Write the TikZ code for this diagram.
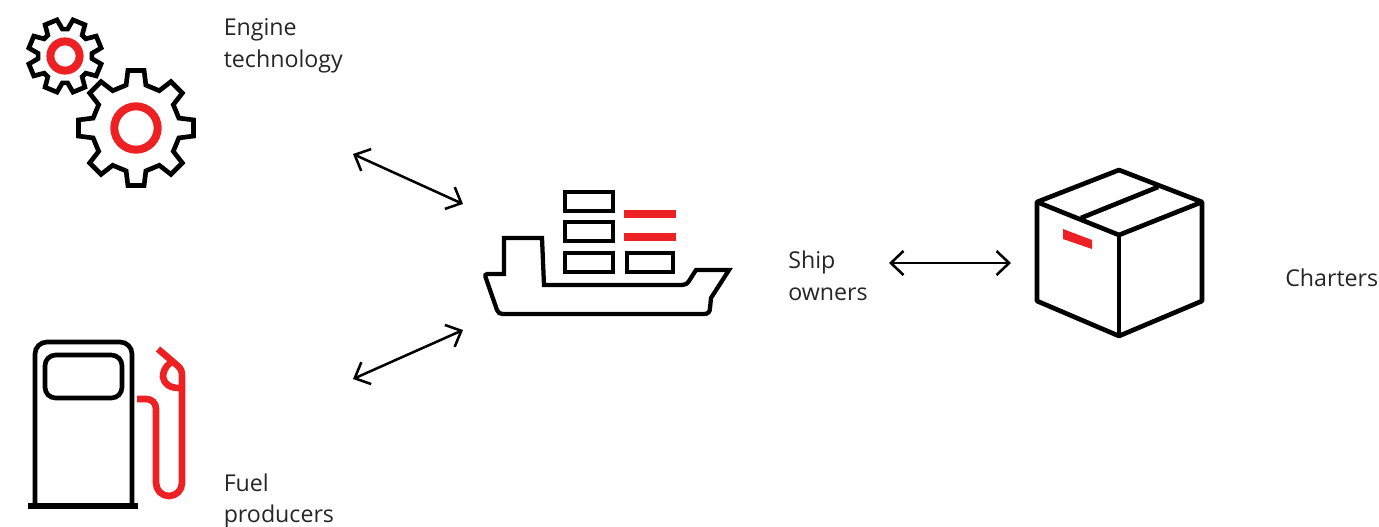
\documentclass[tikz,border=0pt]{standalone}
\usepackage{fontspec}
\setmainfont{Open Sans}
\usetikzlibrary{arrows.meta, calc, positioning}
\definecolor{iconred}{RGB}{237,32,36}
\tikzset{
    icon/.style={line width=3.5pt, line join=miter, black},
    redicon/.style={line width=5pt, iconred},
    link/.style={line width=1.9pt, {Straight Barb[length=9.5pt, width=18pt]}-{Straight Barb[length=9.5pt, width=18pt]}},
    caption/.style={font=\fontsize{17.4}{23.6}\selectfont, text=black!85, inner sep=0pt, align=left},
}
\begin{document}
\begin{tikzpicture}[x=0.75pt, y=-0.75pt]
    \useasboundingbox (0,0) rectangle (1379,526);
    % gears
    \draw[icon] ($(65,56)+(5.5:27)$)
    \foreach \a in {22.5,67.5,...,337.5}{
        -- ($(65,56)+(\a-17:27)$) -- ($(65,56)+(\a-10:37)$) -- ($(65,56)+(\a+10:37)$) -- ($(65,56)+(\a+17:27)$)
    } -- cycle;
    \draw[icon] ($(136,128)+(-13:44)$)
    \foreach \a in {0,45,...,315}{
        -- ($(136,128)+(\a-13:44)$) -- ($(136,128)+(\a-8:58)$) -- ($(136,128)+(\a+8:58)$) -- ($(136,128)+(\a+13:44)$)
    } -- cycle;
    \draw[redicon, line width=6pt] (65,56) circle (14.6);
    \draw[redicon, line width=6pt] (136,128) circle (21.7);
    % pump
    \draw[icon] (35,506) -- (35,354) arc[start angle=180, end angle=270, radius=12] -- (120,342)
        arc[start angle=270, end angle=360, radius=12] -- (132,506);
    \draw[icon, line width=4pt] (28,506) -- (138,506);
    \draw[icon, rounded corners=8] (45,355) rectangle (122,398);
    \draw[redicon, line cap=butt] (137,399) -- (146,399) .. controls (152,399) and (156,403) .. (156,409)
        -- (156,483) arc[start angle=180, end angle=0, radius=13] -- (182,376)
        .. controls (182,371) and (181,369) .. (178,366) -- (158,349);
    \draw[redicon, line cap=butt] (170,363) .. controls (165,367) and (163,372) .. (163,377)
        .. controls (164,384) and (170,388) .. (179,388);
    % ship
    \draw[icon, line width=3.2pt] (504,274) -- (487,274) .. controls (485.5,274) and (485,275.5) .. (485.5,277) -- (497,310)
        .. controls (498,313) and (500,314) .. (503,314) -- (704,314)
        .. controls (708,314) and (710,312) .. (710,308) -- (711,298) -- (729,270) -- (696,270)
        -- (689,281) .. controls (687,284) and (685,285) .. (682,285) -- (544,285) -- (542,238) -- (504,238) -- cycle;
    \foreach \y in {192,222,253}{
        \draw[icon, line width=3.2pt] (565,\y) rectangle (613,\y+19);
    }
    \draw[icon, line width=3.2pt] (627,253) rectangle (673,272);
    \fill[iconred] (624,210) rectangle (676,218);
    \fill[iconred] (624,233) rectangle (676,241);
    % box
    \draw[icon, line join=round] (1119,170) -- (1202,202) -- (1202,301) -- (1119,336) -- (1037,301) -- (1037,202) -- cycle;
    \draw[icon, line join=round] (1037,202) -- (1119,235) -- (1202,202);
    \draw[icon] (1119,235) -- (1119,336);
    \draw[icon] (1081,218) -- (1158,187);
    \fill[iconred] (1063,229) -- (1092,240) -- (1092,249) -- (1063,239) -- cycle;
    % connectors
    \coordinate (engineend) at (353,154);
    \coordinate (shiptop) at (463,204);
    \coordinate (fuelend) at (353,379);
    \coordinate (shiplow) at (463,330);
    \coordinate (shipend) at (889,263);
    \coordinate (boxend) at (1011,263);
    \draw[link] (engineend) -- (shiptop);
    \draw[link] (fuelend) -- (shiplow);
    \draw[link] (shipend) -- (boxend);
    % labels
    \node[caption, anchor=west] (engine) at (223.5,46) {Engine\\technology};
    \node[caption, anchor=west] (fuel) at (223.5,501) {Fuel\\producers};
    \node[caption, anchor=west] (owners) at (788,276) {Ship\\owners};
    \node[caption, anchor=west] (charters) at (1285,278) {Charters};
\end{tikzpicture}
\end{document}
